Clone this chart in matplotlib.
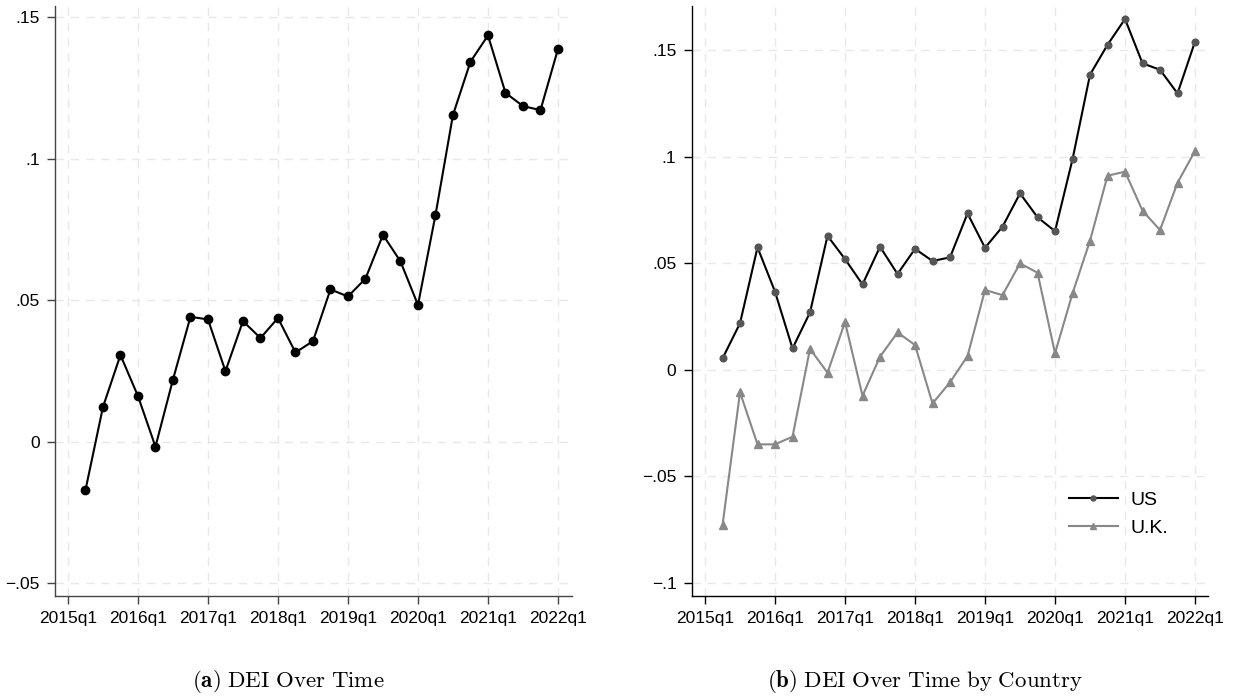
import numpy as np
import matplotlib.pyplot as plt

plt.rcParams['font.family'] = ['Liberation Sans', 'DejaVu Sans']
plt.rcParams['mathtext.fontset'] = 'cm'

# quarters 2015q2 .. 2022q1, counted from 2015q1 = 0
quarters = list(range(1, 29))
tick_pos = [0, 4, 8, 12, 16, 20, 24, 28]
tick_labels = ['2015q1', '2016q1', '2017q1', '2018q1', '2019q1', '2020q1', '2021q1', '2022q1']

dei_all = [-0.0172, 0.0122, 0.0306, 0.0161, -0.0018, 0.0219, 0.0441, 0.0432,
           0.0249, 0.0426, 0.0366, 0.0437, 0.0315, 0.0355, 0.0538, 0.0513,
           0.0576, 0.0731, 0.0637, 0.0483, 0.0801, 0.1155, 0.1343, 0.1436,
           0.1233, 0.1186, 0.1172, 0.1388]

dei_us = [0.0053, 0.0218, 0.0574, 0.0366, 0.0100, 0.0269, 0.0628, 0.0519,
          0.0400, 0.0577, 0.0449, 0.0567, 0.0510, 0.0527, 0.0733, 0.0572,
          0.0671, 0.0827, 0.0715, 0.0650, 0.0987, 0.1384, 0.1524, 0.1645,
          0.1437, 0.1407, 0.1296, 0.1539]

dei_uk = [-0.0729, -0.0106, -0.0350, -0.0350, -0.0314, 0.0098, -0.0014, 0.0224,
          -0.0122, 0.0061, 0.0175, 0.0116, -0.0158, -0.0059, 0.0064, 0.0374,
          0.0350, 0.0499, 0.0455, 0.0077, 0.0358, 0.0605, 0.0910, 0.0929,
          0.0746, 0.0655, 0.0877, 0.1026]

fig = plt.figure(figsize=(12.33, 6.98), dpi=100)
ax1 = fig.add_axes([0.0446, 0.1461, 0.4193, 0.8453])
ax2 = fig.add_axes([0.561, 0.1465, 0.4187, 0.8449])

grid_kw = dict(color='#e8e8e8', linestyle=(0, (6, 5)), linewidth=1.0)


def style_axis(ax, spine_color):
    ax.spines['top'].set_visible(False)
    ax.spines['right'].set_visible(False)
    for s in ['left', 'bottom']:
        ax.spines[s].set_color(spine_color)
        ax.spines[s].set_linewidth(1.0)
    ax.set_xticks(tick_pos)
    ax.set_xticklabels(tick_labels)
    ax.tick_params(length=6, width=1.0, color=spine_color, labelsize=12.5, pad=5)
    ax.grid(True, **grid_kw)
    ax.set_axisbelow(True)


def fmt(v):
    s = ('%g' % round(v, 3))
    s = s.replace('0.', '.')
    return s.replace('-', '\u2212')


# (a) overall
ax1.plot(quarters, dei_all, color='black', linewidth=1.5, marker='o',
         markersize=6, markerfacecolor='black', markeredgecolor='black')
ax1.set_xlim(-0.74, 28.8)
ax1.set_ylim(-0.0546, 0.154)
ax1.set_yticks([-0.05, 0, 0.05, 0.1, 0.15])
ax1.set_yticklabels([fmt(v) for v in [-0.05, 0, 0.05, 0.1, 0.15]])
style_axis(ax1, '#444444')

# (b) by country
ax2.plot(quarters, dei_us, color='black', linewidth=1.5, marker='o',
         markersize=4.8, markerfacecolor='#555555', markeredgecolor='#555555', label='US')
ax2.plot(quarters, dei_uk, color='#888888', linewidth=1.5, marker='^',
         markersize=6, markerfacecolor='#888888', markeredgecolor='#888888', label='U.K.')
ax2.set_xlim(-0.76, 28.74)
ax2.set_ylim(-0.106, 0.1706)
ax2.set_yticks([-0.1, -0.05, 0, 0.05, 0.1, 0.15])
ax2.set_yticklabels([fmt(v) for v in [-0.1, -0.05, 0, 0.05, 0.1, 0.15]])
style_axis(ax2, 'black')
leg = ax2.legend(loc='upper left', bbox_to_anchor=(0.7308, 0.1775), frameon=False,
                 fontsize=14, handlelength=2.5, markerscale=0.75, handletextpad=0.67,
                 labelspacing=0.55, borderpad=0, borderaxespad=0)

fig.text(0.2336, 0.0162, r'$\mathbf{(a)}$ $\mathrm{DEI\ Over\ Time}$',
         ha='center', va='baseline', fontsize=16.5)
fig.text(0.750, 0.0162, r'$\mathbf{(b)}$ $\mathrm{DEI\ Over\ Time\ by\ Country}$',
         ha='center', va='baseline', fontsize=16.5)

fig.savefig('out.png', dpi=100)
